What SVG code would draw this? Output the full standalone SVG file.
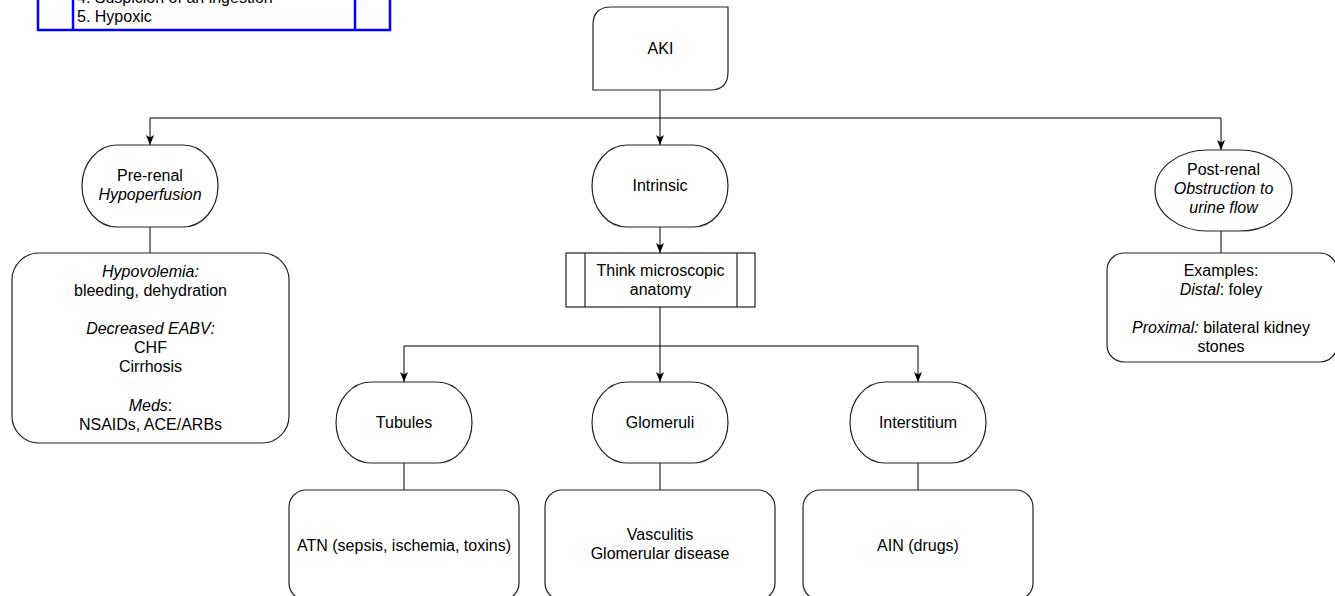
<svg xmlns="http://www.w3.org/2000/svg" width="1335" height="596" viewBox="0 0 1335 596">
<style>
text{font-family:"Liberation Sans",Arial,sans-serif;font-size:16px;fill:#000;text-anchor:middle}
.s{fill:#fff;stroke:#222;stroke-width:1.2}
.c{fill:none;stroke:#000;stroke-width:1}
.i{font-style:italic}
.blue{fill:none;stroke:#0000ff;stroke-width:2.5}
.l{text-anchor:start}
</style>
<defs>
<marker id="ah" markerWidth="10" markerHeight="8" refX="10" refY="4" orient="auto" markerUnits="userSpaceOnUse">
<path d="M0,0 L10,4 L0,8 L2.5,4 Z" fill="#000"/>
</marker>
</defs>
<rect width="1335" height="596" fill="#fff"/>
<g id="table">
<rect class="blue" x="38" y="-10" width="352" height="40"/>
<line class="blue" x1="73" y1="-10" x2="73" y2="30"/>
<line class="blue" x1="355" y1="-10" x2="355" y2="30"/>
<text class="l" x="77" y="3">4. Suspicion of an ingestion</text>
<text class="l" x="77" y="22">5. Hypoxic</text>
</g>
<g id="connectors">
<path class="c" d="M660,90 V118"/>
<path class="c" d="M660,118 H150 V145" marker-end="url(#ah)"/>
<path class="c" d="M660,118 V145" marker-end="url(#ah)"/>
<path class="c" d="M660,118 H1221 V150" marker-end="url(#ah)"/>
<path class="c" d="M150,227 V253"/>
<path class="c" d="M660,227 V253" marker-end="url(#ah)"/>
<path class="c" d="M660,307 V346"/>
<path class="c" d="M660,346 H404 V382" marker-end="url(#ah)"/>
<path class="c" d="M660,346 V382" marker-end="url(#ah)"/>
<path class="c" d="M660,346 H918 V382" marker-end="url(#ah)"/>
<path class="c" d="M404,463 V490"/>
<path class="c" d="M660,463 V490"/>
<path class="c" d="M918,463 V490"/>
<path class="c" d="M1221,231 V253"/>
</g>
<g id="aki">
<path class="s" d="M593,25 Q593,7 611,7 L728,7 L728,72 Q728,90 710,90 L593,90 Z"/>
<text x="660.5" y="54">AKI</text>
</g>
<g id="prerenal">
<rect class="s" x="82" y="145" width="136" height="82" rx="35" ry="41"/>
<text x="150" y="181">Pre-renal</text>
<text class="i" x="150" y="200">Hypoperfusion</text>
</g>
<g id="prerenal-box">
<rect class="s" x="12" y="253" width="277" height="190" rx="27"/>
<text class="i" x="150.5" y="277">Hypovolemia:</text>
<text x="150.5" y="296">bleeding, dehydration</text>
<text class="i" x="150.5" y="334">Decreased EABV:</text>
<text x="150.5" y="353">CHF</text>
<text x="150.5" y="372">Cirrhosis</text>
<text x="150.5" y="411"><tspan class="i">Meds</tspan>:</text>
<text x="150.5" y="430">NSAIDs, ACE/ARBs</text>
</g>
<g id="intrinsic">
<rect class="s" x="592" y="145" width="136" height="82" rx="35" ry="41"/>
<text x="660" y="191">Intrinsic</text>
</g>
<g id="think">
<rect class="s" x="566" y="253" width="189" height="54"/>
<line class="s" x1="585" y1="253" x2="585" y2="307"/>
<line class="s" x1="737" y1="253" x2="737" y2="307"/>
<text x="660.5" y="276">Think microscopic</text>
<text x="660.5" y="295">anatomy</text>
</g>
<g id="postrenal">
<rect class="s" x="1155" y="150" width="137" height="81" rx="52" ry="40.5"/>
<text x="1223.5" y="175">Post-renal</text>
<text class="i" x="1223.5" y="194">Obstruction to</text>
<text class="i" x="1223.5" y="213">urine flow</text>
</g>
<g id="postrenal-box">
<rect class="s" x="1107" y="253" width="230" height="109" rx="17"/>
<text x="1221" y="276">Examples:</text>
<text x="1221" y="295"><tspan class="i">Distal</tspan>: foley</text>
<text x="1221" y="333"><tspan class="i">Proximal:</tspan> bilateral kidney</text>
<text x="1221" y="352">stones</text>
</g>
<g id="tubules">
<rect class="s" x="336" y="382" width="136" height="81" rx="35" ry="40.5"/>
<text x="404" y="428">Tubules</text>
</g>
<g id="glomeruli">
<rect class="s" x="592" y="382" width="136" height="81" rx="35" ry="40.5"/>
<text x="660" y="428">Glomeruli</text>
</g>
<g id="interstitium">
<rect class="s" x="850" y="382" width="136" height="81" rx="35" ry="40.5"/>
<text x="918" y="428">Interstitium</text>
</g>
<g id="atn">
<rect class="s" x="289" y="490" width="230" height="110" rx="17"/>
<text x="404" y="551">ATN (sepsis, ischemia, toxins)</text>
</g>
<g id="glom-box">
<rect class="s" x="545" y="490" width="230" height="110" rx="17"/>
<text x="660" y="540">Vasculitis</text>
<text x="660" y="559">Glomerular disease</text>
</g>
<g id="ain">
<rect class="s" x="803" y="490" width="230" height="110" rx="17"/>
<text x="918" y="551">AIN (drugs)</text>
</g>
</svg>
